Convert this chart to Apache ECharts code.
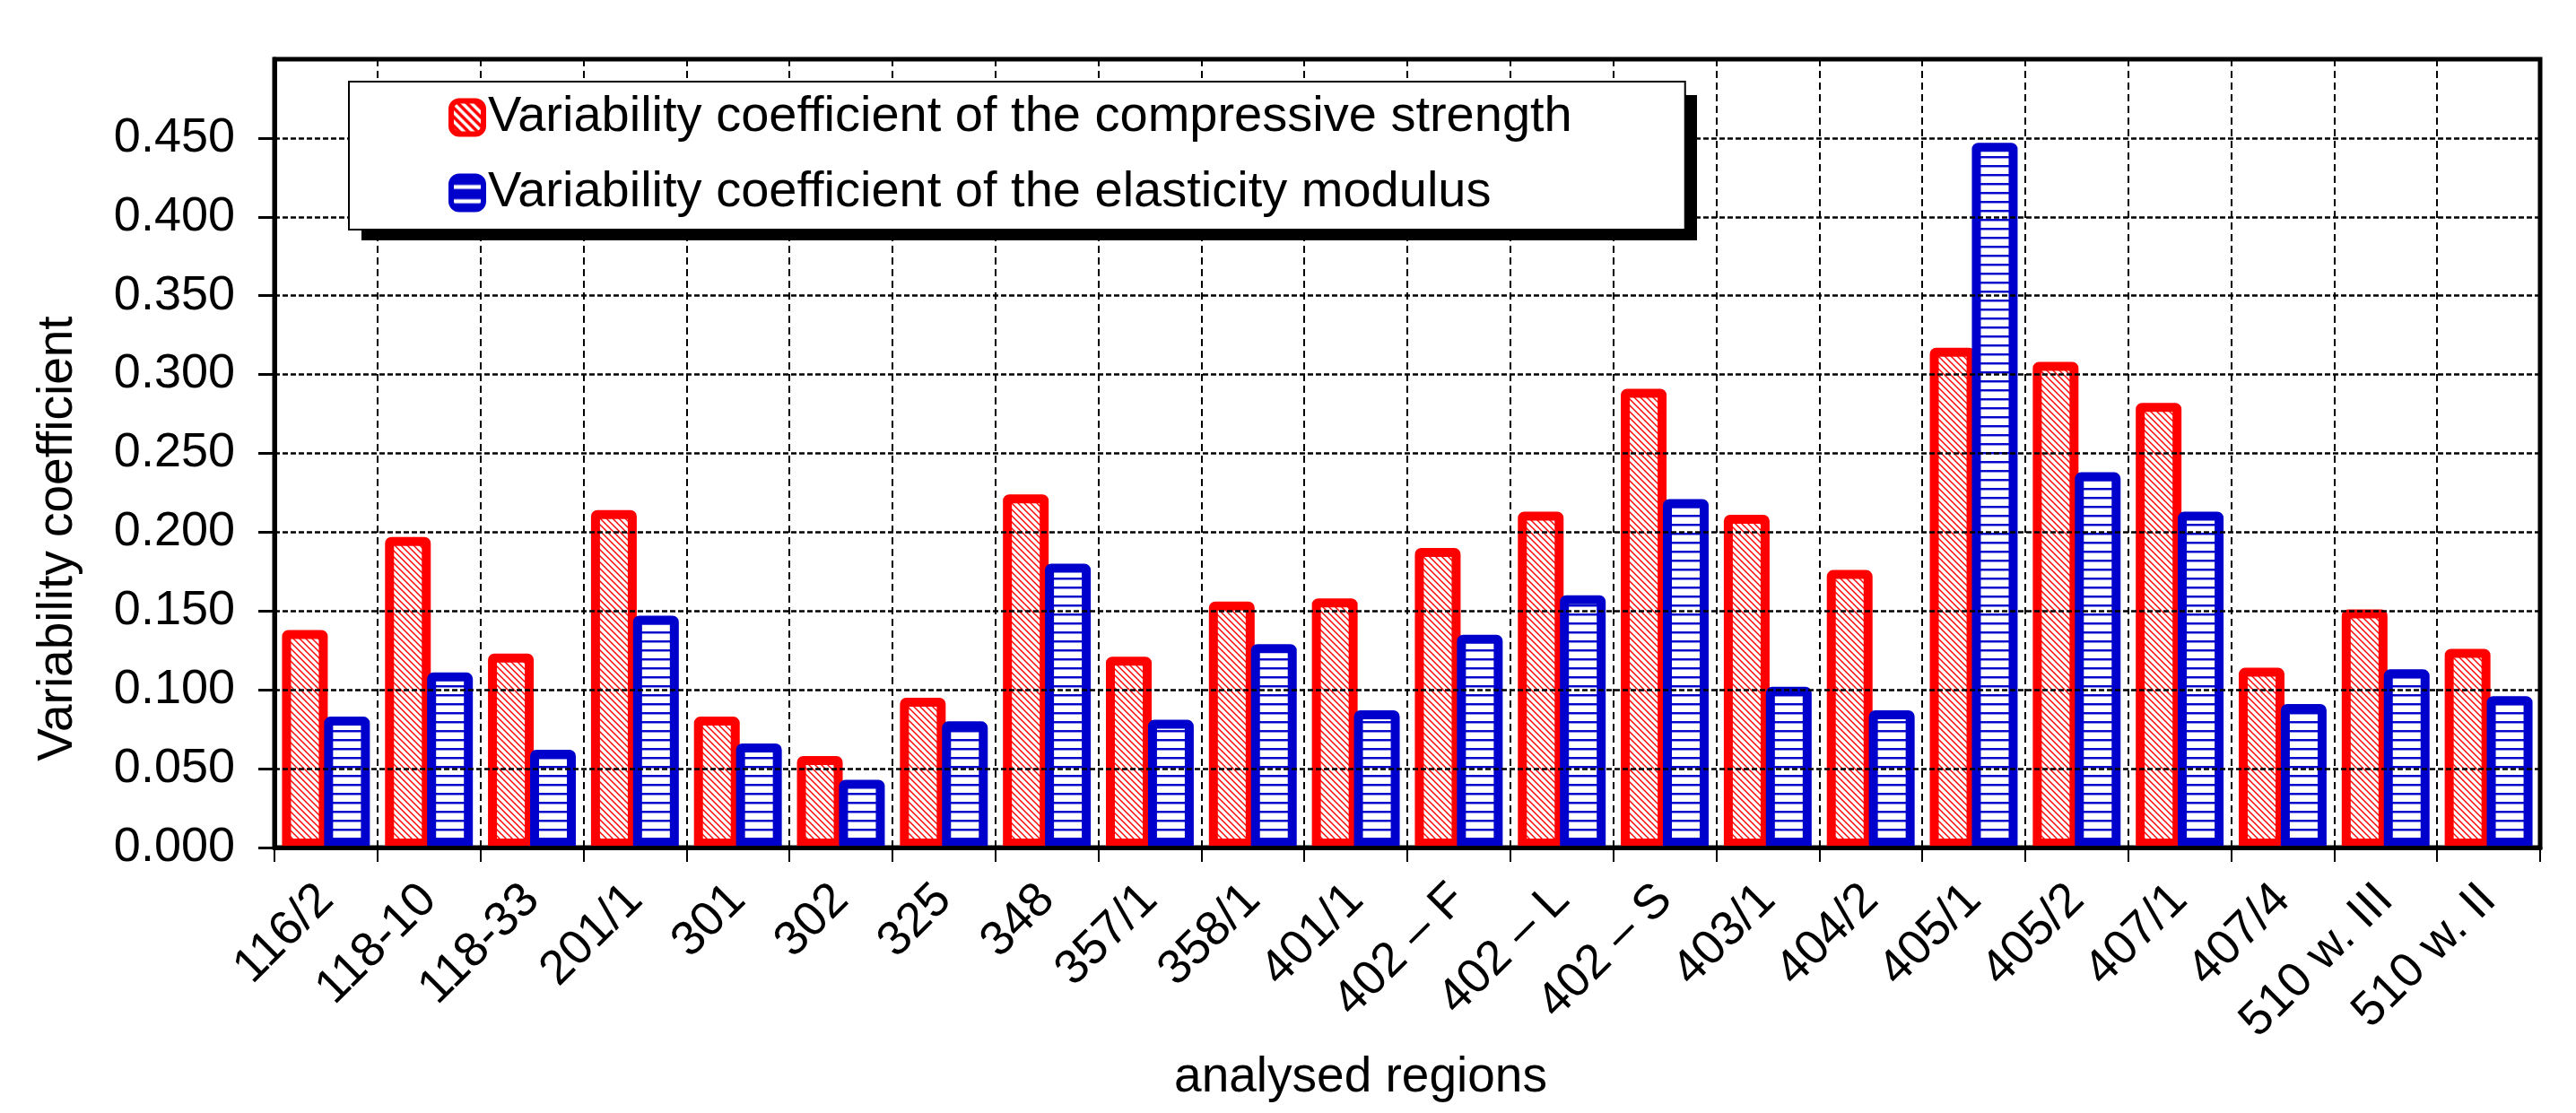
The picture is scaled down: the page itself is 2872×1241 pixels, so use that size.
<!DOCTYPE html>
<html><head><meta charset="utf-8">
<script src="https://cdn.jsdelivr.net/npm/echarts@6/dist/echarts.min.js"></script>
<style>html,body{margin:0;padding:0;background:#fff}#c{width:2872px;height:1241px}</style>
</head><body><div id="c"></div>
<script>
const categories = ['116/2','118-10','118-33','201/1','301','302','325','348','357/1','358/1','401/1','402 \u2013 F','402 \u2013 L','402 \u2013 S','403/1','404/2','405/1','405/2','407/1','407/4','510 w. III','510 w. II'];
const compressiveStrength = [0.138,0.197,0.123,0.214,0.083,0.058,0.095,0.224,0.121,0.156,0.158,0.190,0.213,0.291,0.211,0.176,0.317,0.308,0.282,0.114,0.151,0.126];
const elasticityModulus = [0.083,0.111,0.062,0.147,0.066,0.043,0.080,0.180,0.081,0.129,0.087,0.135,0.160,0.221,0.102,0.087,0.447,0.238,0.213,0.091,0.113,0.096];
const seriesNames = ['Variability coefficient of the compressive strength','Variability coefficient of the elasticity modulus'];

function diag(bg, fg, s, lw){
  const c=document.createElement('canvas'); c.width=c.height=s;
  const g=c.getContext('2d'); g.fillStyle=bg; g.fillRect(0,0,s,s);
  g.strokeStyle=fg; g.lineWidth=lw; g.beginPath();
  g.moveTo(-1,-1); g.lineTo(s+1,s+1);
  g.moveTo(-s,0); g.lineTo(s,2*s);
  g.moveTo(0,-s); g.lineTo(2*s,s);
  g.stroke(); return c;
}
function horiz(bg, fg, s, lw, off){
  const c=document.createElement('canvas'); c.width=c.height=s;
  const g=c.getContext('2d'); g.fillStyle=bg; g.fillRect(0,0,s,s);
  g.fillStyle=fg; g.fillRect(0,off===undefined?(s-lw)/2:off,s,lw); return c;
}
const FONT = "'Liberation Sans', Arial, sans-serif";
const chart = echarts.init(document.getElementById('c'));
chart.setOption({
  animation:false,
  backgroundColor:'#fff',
  textStyle:{fontFamily:FONT},
  grid:{left:306,right:40,top:66,bottom:296,show:true,borderColor:'#000',borderWidth:5,backgroundColor:'transparent'},
  graphic:[{type:'rect', z:9, silent:true, shape:{x:403,y:106,width:1489,height:162}, style:{fill:'#000'}}],
  legend:{
    z:10,
    orient:'vertical', left:389, top:91,
    padding:[12,126,13,111],
    backgroundColor:'#fff', borderColor:'#000', borderWidth:2, borderRadius:0,
    itemWidth:36, itemHeight:37, itemGap:28,
    textStyle:{fontSize:56, color:'#000', fontFamily:FONT},
    data:[
      {name:seriesNames[0], icon:'roundRect', itemStyle:{color:{image:diag('#ff0000','#ffffff',10,3.5),repeat:'repeat'},borderColor:'#ff0000',borderWidth:6}},
      {name:seriesNames[1], icon:'roundRect', itemStyle:{color:{image:horiz('#0000cc','#ffffff',16,4.5,9.7),repeat:'repeat'},borderColor:'#0000cc',borderWidth:6}}
    ]
  },
  xAxis:{
    type:'category', data:categories, z:5,
    name:'analysed regions', nameLocation:'middle', nameGap:202,
    nameTextStyle:{fontSize:55,color:'#000',fontFamily:FONT,padding:[0,104,0,0]},
    axisLine:{lineStyle:{color:'#000',width:5}},
    axisTick:{show:true,length:16,lineStyle:{color:'#000',width:2}},
    axisLabel:{rotate:45,fontSize:54,color:'#000',margin:50,interval:0,fontFamily:FONT},
    splitLine:{show:true,lineStyle:{color:'#000',width:2,type:[8,5]}}
  },
  yAxis:{
    type:'value', min:0, max:0.5, interval:0.05, z:5,
    name:'Variability coefficient', nameLocation:'middle', nameGap:214,
    nameTextStyle:{fontSize:55,color:'#000',fontFamily:FONT,padding:[0,190,0,0]},
    axisLine:{show:true,lineStyle:{color:'#000',width:5}},
    axisTick:{show:true,length:18,lineStyle:{color:'#000',width:3}},
    axisLabel:{fontSize:54,color:'#000',margin:44,showMaxLabel:false,fontFamily:FONT,formatter:v=>v.toFixed(3)},
    splitLine:{show:true,lineStyle:{color:'#000',width:2.5,type:[6,3]}}
  },
  series:[
    {name:seriesNames[0], type:'bar', data:compressiveStrength, barWidth:51, barGap:'-8%',
     itemStyle:{color:{image:diag('#ffffff','#ff0000',7,1.4),repeat:'repeat'},borderColor:'#ff0000',borderWidth:10,borderRadius:[2,2,0,0]}},
    {name:seriesNames[1], type:'bar', data:elasticityModulus, barWidth:51, barGap:'-8%',
     itemStyle:{color:{image:horiz('#ffffff','#0000cc',10.5,2.4),repeat:'repeat'},borderColor:'#0000cc',borderWidth:10,borderRadius:[2,2,0,0]}}
  ]
});
</script></body></html>
